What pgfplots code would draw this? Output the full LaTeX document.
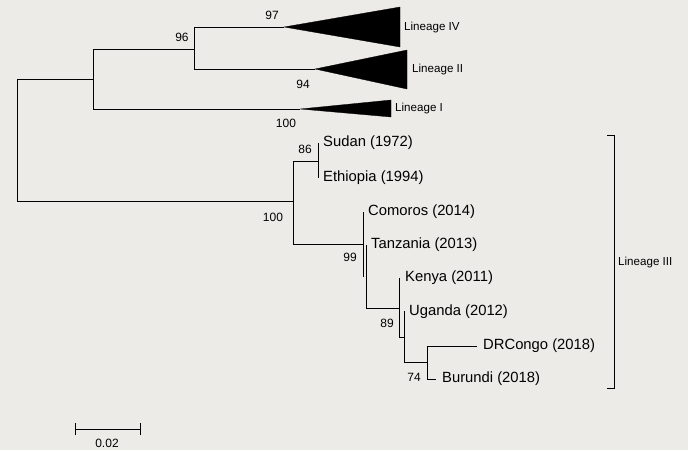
\documentclass[border=0pt]{standalone}
\usepackage{pgfplots}
\pgfplotsset{compat=1.18}
\usepackage{fontspec}
\setmainfont{Liberation Sans}
\definecolor{bg}{RGB}{237,235,232}
\begin{document}
\begin{tikzpicture}
\begin{axis}[
  width=688pt, height=450pt, scale only axis,
  xmin=0, xmax=688, ymin=0, ymax=450, y dir=reverse,
  hide axis, clip=false,
  cycle list={{black,solid}},
  every axis plot/.append style={line width=1pt, no markers},
]
\fill[bg] (axis cs:0,0) rectangle (axis cs:688,450);
% root
\addplot coordinates {(17,79) (17,201)};
\addplot coordinates {(17,79) (93,79)};
\addplot coordinates {(17,201) (293,201)};
% upper clade
\addplot coordinates {(93,49) (93,109)};
\addplot coordinates {(93,49) (194,49)};
\addplot coordinates {(194,27) (194,69)};
\addplot coordinates {(194,27) (284,27)};
\addplot coordinates {(194,69) (315,69)};
\addplot coordinates {(93,109) (300,109)};
\addplot[fill=black, line width=0.3pt] coordinates {(284,27) (400,7) (400,47)} -- cycle;
\addplot[fill=black, line width=0.3pt] coordinates {(315,69) (407,50) (407,89)} -- cycle;
\addplot[fill=black, line width=0.3pt] coordinates {(300,109) (391,100) (391,117)} -- cycle;
% lineage III
\addplot coordinates {(293,161) (293,244)};
\addplot coordinates {(293,161) (318,161)};
\addplot coordinates {(318,143) (318,178)};
\addplot coordinates {(293,244) (363,244)};
\addplot coordinates {(363,212) (363,277)};
\addplot coordinates {(366,245) (366,308)};
\addplot coordinates {(366,308) (399,308)};
\addplot coordinates {(399,278) (399,338)};
\addplot coordinates {(404,311) (404,362)};
\addplot coordinates {(399,337) (404,337)};
\addplot coordinates {(404,362) (427,362)};
\addplot coordinates {(427,346) (427,379)};
\addplot coordinates {(427,346) (477,346)};
\addplot coordinates {(427,379) (436,379)};
% bracket
\addplot coordinates {(607,135) (614,135) (614,388) (607,388)};
% scale bar
\addplot coordinates {(75,429) (140,429)};
\addplot coordinates {(75,423) (75,435)};
\addplot coordinates {(140,423) (140,435)};
% labels
\begin{scope}[every node/.style={font=\fontsize{12}{14}\selectfont, inner sep=0pt}]
\node at (axis cs:272,15) {97};
\node at (axis cs:182,37) {96};
\node at (axis cs:303,84) {94};
\node at (axis cs:286,123) {100};
\node at (axis cs:305,149) {86};
\node at (axis cs:273,217) {100};
\node at (axis cs:350,257) {99};
\node at (axis cs:387,323) {89};
\node at (axis cs:414,377) {74};
\node at (axis cs:107,443) {0.02};
\end{scope}
\begin{scope}[every node/.style={font=\fontsize{11.6}{13}\selectfont, inner sep=0pt, anchor=west}]
\node at (axis cs:404,27) {Lineage IV};
\node at (axis cs:412,69) {Lineage II};
\node at (axis cs:395,108) {Lineage I};
\node at (axis cs:618,262) {Lineage III};
\end{scope}
\begin{scope}[every node/.style={font=\fontsize{14.8}{17}\selectfont, inner sep=0pt, anchor=west}]
\node at (axis cs:323,143) {Sudan (1972)};
\node at (axis cs:323,178) {Ethiopia (1994)};
\node at (axis cs:368,212) {Comoros (2014)};
\node at (axis cs:371,245) {Tanzania (2013)};
\node at (axis cs:405,278) {Kenya (2011)};
\node at (axis cs:409,312) {Uganda (2012)};
\node at (axis cs:483,346) {DRCongo (2018)};
\node at (axis cs:442,379) {Burundi (2018)};
\end{scope}
\end{axis}
\end{tikzpicture}
\end{document}
